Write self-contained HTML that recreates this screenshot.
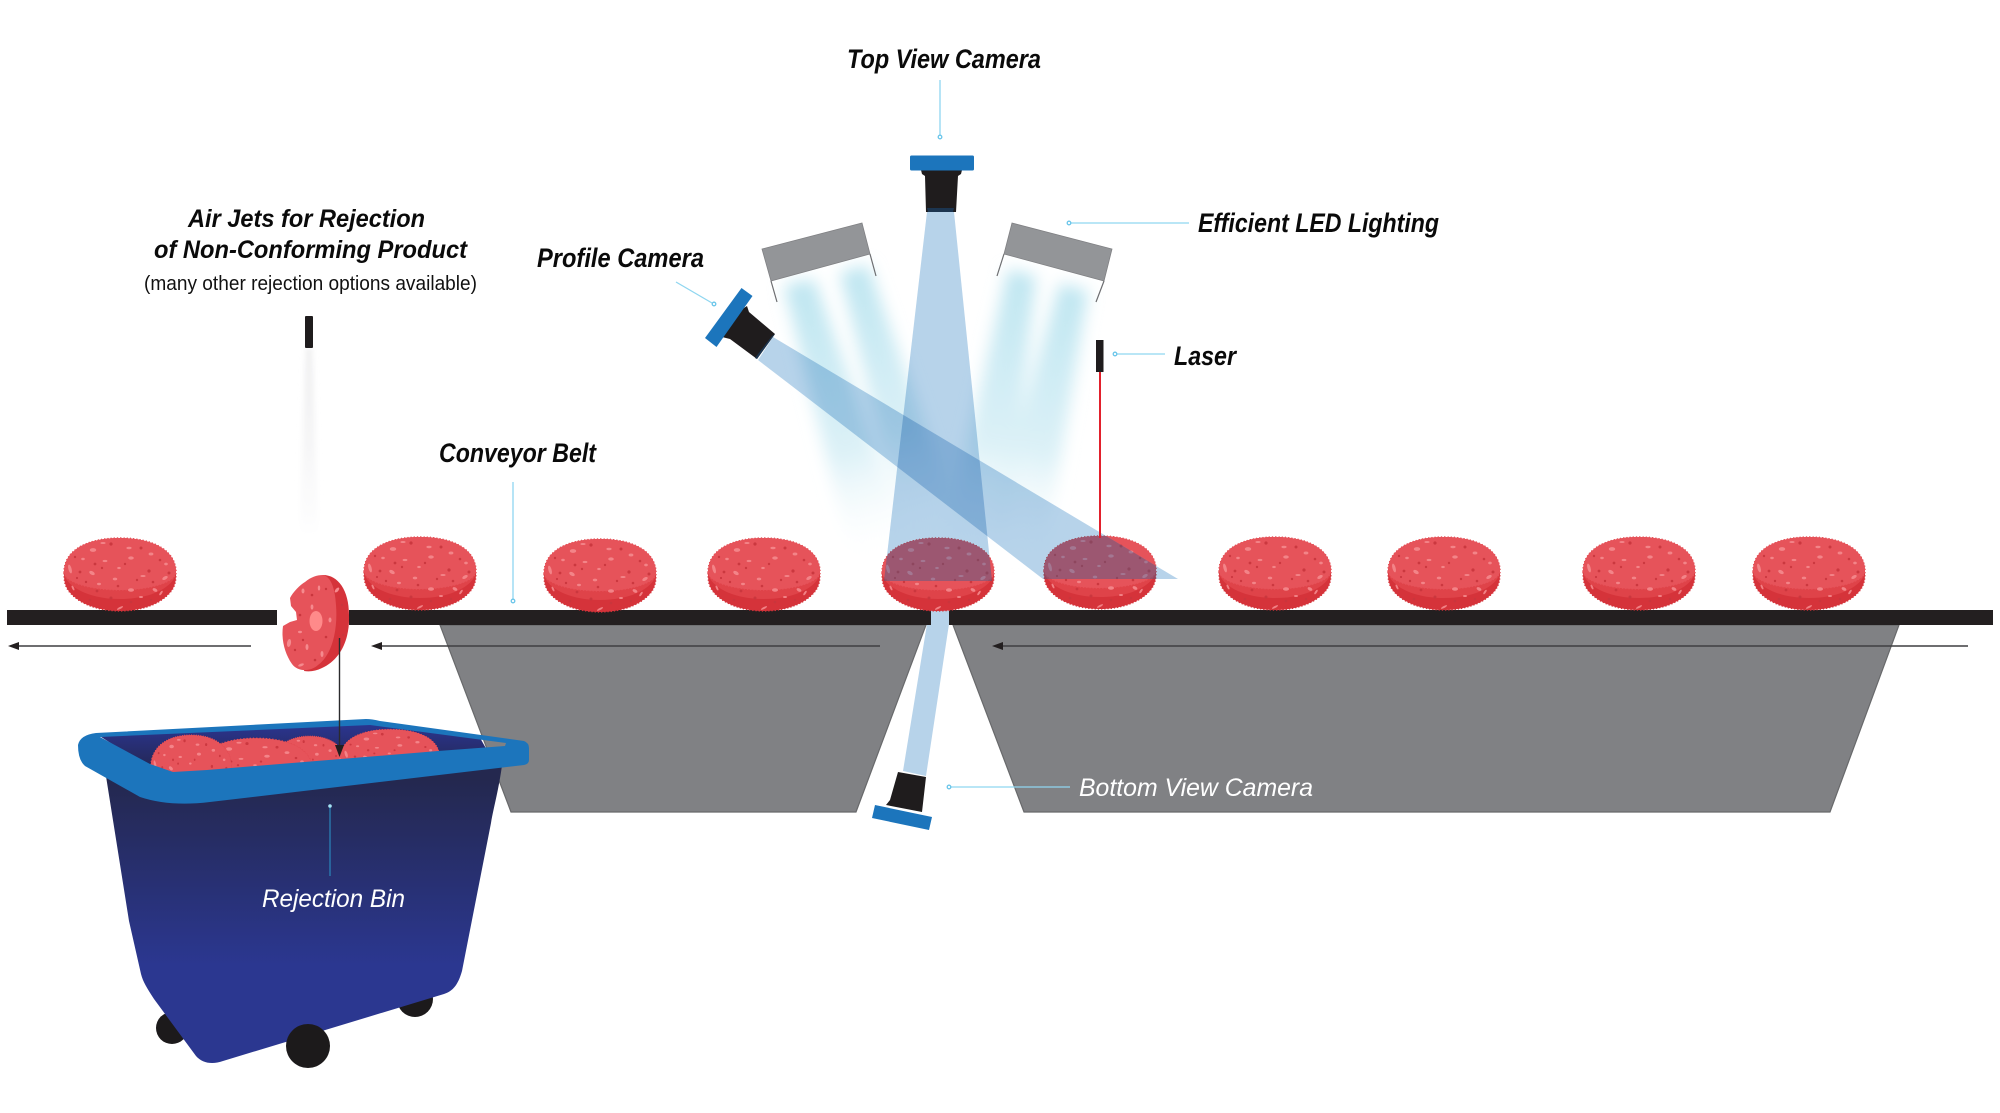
<!DOCTYPE html>
<html lang="en">
<head>
<meta charset="utf-8">
<title>Patty inspection line</title>
<style>
html,body{margin:0;padding:0;background:#fff;width:2000px;height:1113px;overflow:hidden}
svg{display:block}
text{font-family:"Liberation Sans",sans-serif}
.b{font-weight:700;font-style:italic;font-size:27px;fill:#0a0a0a}
.a{font-weight:700;font-style:italic;font-size:25px;fill:#0a0a0a}
.w{font-style:italic;font-size:25px;fill:#fff}
.lead{stroke:#8fd6f0;stroke-width:1.3;fill:none}
.dot{stroke:#6cc6ea;stroke-width:1.3;fill:#fff}
.blue{fill:#1c75bc}
.blk{fill:#1f1c1d}
.beam{fill:#b7d3ea;mix-blend-mode:multiply}
.arr{stroke:#3f3f41;stroke-width:1.6;fill:none}
</style>
</head>
<body>
<svg width="2000" height="1113" viewBox="0 0 2000 1113" xmlns="http://www.w3.org/2000/svg">
<defs>
<filter id="bl" x="-80%" y="-20%" width="260%" height="140%"><feGaussianBlur stdDeviation="8"/></filter>
<filter id="bl2" x="-100%" y="-10%" width="300%" height="120%"><feGaussianBlur stdDeviation="3"/></filter>
<linearGradient id="ledL" gradientUnits="userSpaceOnUse" x1="800" y1="285" x2="885" y2="560">
<stop offset="0" stop-color="#bfe6f1"/><stop offset=".6" stop-color="#dcf1f7"/><stop offset="1" stop-color="#ffffff" stop-opacity="0"/>
</linearGradient>
<linearGradient id="ledL2" gradientUnits="userSpaceOnUse" x1="855" y1="270" x2="935" y2="540">
<stop offset="0" stop-color="#bfe6f1"/><stop offset=".6" stop-color="#dcf1f7"/><stop offset="1" stop-color="#ffffff" stop-opacity="0"/>
</linearGradient>
<linearGradient id="ledR" gradientUnits="userSpaceOnUse" x1="1022" y1="270" x2="973" y2="560">
<stop offset="0" stop-color="#bfe6f1"/><stop offset=".6" stop-color="#dcf1f7"/><stop offset="1" stop-color="#ffffff" stop-opacity="0"/>
</linearGradient>
<linearGradient id="ledR2" gradientUnits="userSpaceOnUse" x1="1073" y1="285" x2="1012" y2="560">
<stop offset="0" stop-color="#bfe6f1"/><stop offset=".6" stop-color="#dcf1f7"/><stop offset="1" stop-color="#ffffff" stop-opacity="0"/>
</linearGradient>
<linearGradient id="air" gradientUnits="userSpaceOnUse" x1="309" y1="348" x2="309" y2="540">
<stop offset="0" stop-color="#eeeeef"/><stop offset=".5" stop-color="#f6f6f7"/><stop offset="1" stop-color="#ffffff"/>
</linearGradient>
<linearGradient id="binG" gradientUnits="userSpaceOnUse" x1="0" y1="780" x2="0" y2="965">
<stop offset="0" stop-color="#24284f"/><stop offset="1" stop-color="#2b3790"/>
</linearGradient>
<linearGradient id="inG" gradientUnits="userSpaceOnUse" x1="0" y1="724" x2="0" y2="772">
<stop offset="0" stop-color="#2b3590"/><stop offset="1" stop-color="#232650"/>
</linearGradient>
<clipPath id="cTop"><polygon points="926,212 953,212 992,581 884,581"/></clipPath>
<clipPath id="cPro"><polygon points="775,336 757,359 1043,579 1178,579"/></clipPath>
<clipPath id="cHole"><polygon points="98,735 150,766 173,774 207,772 440,753 507,748 507,741 370,723"/></clipPath>

<path id="ps" d="M1,32C1,11 23,-2 57,-2C91,-2 113,11 113,32C113,38 113,44 109,50C100,63 80,71 57,71C34,71 14,63 5,50C1,44 1,38 1,32Z"/>

<g id="sp" opacity=".9">
<g fill="#f58a8e">
<ellipse cx="7" cy="29" rx="1.6" ry="4.5" transform="rotate(-15 7 29)"/><ellipse cx="30" cy="10" rx="3.2" ry="1.9"/><ellipse cx="40" cy="3" rx="2.6" ry="1"/>
<ellipse cx="66" cy="8" rx="2.6" ry="1.2"/><ellipse cx="88" cy="14" rx="2.4" ry="1.5"/><ellipse cx="29" cy="33" rx="3" ry="1.8" transform="rotate(30 29 33)"/>
<ellipse cx="42" cy="21" rx="2.4" ry="1.1"/><ellipse cx="68" cy="18" rx="2.8" ry="1.6"/><ellipse cx="102" cy="38" rx="3" ry="1.6" transform="rotate(-30 102 38)"/>
<ellipse cx="52" cy="39" rx="2.2" ry="1.4"/><ellipse cx="68" cy="50" rx="3" ry="1.8"/><ellipse cx="92" cy="50" rx="2.6" ry="1.6" transform="rotate(30 92 50)"/>
<ellipse cx="20" cy="19" rx="1.8" ry="1.2"/><ellipse cx="103" cy="24" rx="1.8" ry="1.4"/><ellipse cx="80" cy="36" rx="2.6" ry="1"/>
<ellipse cx="10" cy="48" rx="1" ry="2.6" transform="rotate(-25 10 48)"/><ellipse cx="57" cy="68" rx="3.4" ry="1" transform="rotate(-28 57 68)"/><ellipse cx="36" cy="44" rx="2" ry="1.2"/>
<ellipse cx="78" cy="57" rx="2" ry="1"/><ellipse cx="56" cy="28" rx="1.8" ry="1.1"/><ellipse cx="98" cy="53" rx="1" ry="2.6" transform="rotate(35 98 53)"/>
</g>
<g fill="#c9363d">
<circle cx="17" cy="32" r="1.4"/><circle cx="32" cy="24" r="1.4"/><circle cx="48" cy="4" r="1.6"/><circle cx="78" cy="8" r="1.5"/><circle cx="97" cy="20" r="1.3"/>
<circle cx="39" cy="28" r="1.2"/><circle cx="62" cy="24" r="1.2"/><circle cx="86" cy="31" r="1.6"/><circle cx="23" cy="42" r="1.2"/><circle cx="55" cy="46" r="1.3"/>
<circle cx="74" cy="40" r="1.2"/><circle cx="90" cy="42" r="1.3"/><circle cx="34" cy="51" r="1.4"/><circle cx="106" cy="33" r="1.5"/><circle cx="27" cy="60" r="1.3"/>
<circle cx="48" cy="58" r="1.5"/><circle cx="68" cy="62" r="1.3"/><circle cx="88" cy="60" r="1.2"/><circle cx="14" cy="38" r="1.1"/><circle cx="12" cy="17" r="1.2"/>
</g>
</g>

<g id="p">
<use href="#ps" fill="#d5333a" stroke="#d5333a" stroke-width="1.5" stroke-linecap="round" stroke-dasharray="0 3.2"/>
<path d="M1.5,36C8,50 30,59 57,59C84,59 106,50 112.5,36Z" fill="#df4349"/>
<path d="M1,32C1,11 23,-2 57,-2C91,-2 113,11 113,32C113,42 88,50 57,50C26,50 1,42 1,32Z" fill="#e6535a" stroke="#e6535a" stroke-width="1.4" stroke-linecap="round" stroke-dasharray="0 3.2"/>
<use href="#sp"/>
</g>
</defs>

<!-- LED light streaks -->
<g filter="url(#bl)">
<polygon points="784,285 814,279 915,560 852,560" fill="url(#ledL)"/>
<polygon points="840,272 868,265 965,540 905,540" fill="url(#ledL2)"/>
<polygon points="1008,269 1036,276 1005,560 940,560" fill="url(#ledR)"/>
<polygon points="1060,283 1088,291 1044,560 980,560" fill="url(#ledR2)"/>
</g>
<polygon points="306,348 312,348 319,540 299,540" fill="url(#air)" filter="url(#bl2)"/>

<!-- conveyor supports -->
<polygon points="440,625 926,625 856,812 511,812" fill="#808184" stroke="#68696b" stroke-width="1.2"/>
<polygon points="953,625 1899,625 1830,812 1024,812" fill="#808184" stroke="#68696b" stroke-width="1.2"/>

<!-- bottom beam -->
<polygon points="931,610 949,610 949,624 926,776 903,771 927,624 931,624" fill="#b7d3ea"/>

<!-- belt -->
<g fill="#231f20">
<rect x="7" y="610" width="270" height="15"/>
<rect x="349" y="610" width="582" height="15"/>
<rect x="949" y="610" width="1044" height="15"/>
</g>

<!-- patties -->
<use href="#p" x="63" y="540"/>
<use href="#p" x="363" y="539"/>
<use href="#p" x="543" y="541"/>
<use href="#p" x="707" y="540"/>
<use href="#p" x="881" y="540"/>
<use href="#p" x="1043" y="538"/>
<use href="#p" x="1218" y="539"/>
<use href="#p" x="1387" y="539"/>
<use href="#p" x="1582" y="539"/>
<use href="#p" x="1752" y="539"/>

<!-- camera beams -->
<polygon class="beam" points="927,212 954,212 992,581 884,581"/>
<polygon class="beam" points="773,337 758,360 1043,579 1178,579"/>
<g clip-path="url(#cTop)"><use href="#ps" x="881" y="540" fill="#7f9be0" opacity=".22"/></g>
<g clip-path="url(#cPro)"><use href="#ps" x="1043" y="538" fill="#7f9be0" opacity=".22"/></g>

<!-- red laser -->
<line x1="1100" y1="372" x2="1100" y2="538" stroke="#e2202c" stroke-width="2"/>
<rect x="1096" y="340" width="7.5" height="32" class="blk"/>

<!-- LED housings -->
<polygon points="762,249 862,223 870,254 771,281" fill="#939598" stroke="#808184" stroke-width=".8"/>
<polygon points="1012,223 1112,249 1104,281 1004,254" fill="#939598" stroke="#808184" stroke-width=".8"/>
<g stroke="#6d6e71" stroke-width="1.2" fill="none">
<line x1="771" y1="281" x2="777" y2="302"/><line x1="870" y1="254" x2="876" y2="276"/>
<line x1="1004" y1="254" x2="997" y2="276"/><line x1="1104" y1="281" x2="1096" y2="302"/>
</g>

<!-- top camera -->
<polygon class="blk" points="921,170 962,170 961,174 958,176 956,212 926,212 925,176 922,174"/>
<polygon points="927,208 954,208 953,212 928,212" fill="#1c3550"/>
<rect x="910" y="155.5" width="64" height="15" rx="1.5" class="blue"/>

<!-- profile camera -->
<polygon class="blk" points="747,306 749,312 775,334 757,359 730,339 722,337 733,315"/>
<polygon points="772,336 775,334 757,359 755,358" fill="#1c3550"/>
<polygon class="blue" points="741.5,288 752.5,296 716.5,347 705,338"/>

<!-- bottom camera -->
<polygon class="blk" points="898,772 926,777 922,812 886,805 890,800"/>
<polygon class="blue" points="875,805 932,817 929,830 872,818"/>

<!-- air nozzle -->
<rect x="305" y="316" width="8" height="32" rx="1" class="blk"/>

<!-- flow arrows -->
<g class="arr">
<line x1="251" y1="646" x2="16" y2="646"/>
<line x1="880" y1="646" x2="379" y2="646"/>
<line x1="1968" y1="646" x2="1000" y2="646"/>
</g>
<g fill="#231f20">
<polygon points="8,646 19,642 19,650"/>
<polygon points="371,646 382,642 382,650"/>
<polygon points="992,646 1003,642 1003,650"/>
</g>

<!-- bin rear wheels -->
<circle cx="172" cy="1028" r="16" fill="#1c1a1b"/>
<circle cx="415" cy="999" r="18" fill="#1c1a1b"/>

<!-- bin body -->
<path d="M105,770L503,758C499,790 494,805 491,823L462,971C458,985 453,991 444,994L223,1061C212,1065 202,1063 196,1056L154,999C147,988 143,982 141,974L129,921Z" fill="url(#binG)"/>
<polygon points="98,735 370,723 479,736 488,752 437,756 207,775 173,776 150,768" fill="url(#inG)"/>

<!-- patties in bin -->
<g clip-path="url(#cHole)">
<use href="#p" transform="translate(340,731) scale(.88,.8)"/>
<use href="#p" transform="translate(272,738) scale(.66,.9)"/>
<use href="#p" transform="translate(199,740) scale(1,.9)"/>
<use href="#p" transform="translate(150,737) scale(.72,.95)"/>
</g>

<!-- bin rim -->
<path fill-rule="evenodd" class="blue" d="M78,745Q80,735 96,733L366,719Q372,719 380,721L524,741Q529,743 529,748L529,760Q529,764 524,765L210,802Q170,807 140,797L85,766Q78,760 78,745ZM100,737L150,764L173,772L207,770L438,751L505,746L506,743L370,725Z"/>

<!-- front wheel -->
<ellipse cx="308" cy="1046" rx="22" ry="22" fill="#1c1a1b"/>

<!-- falling patty -->
<g>
<path d="M323,575C338,575 349,590 349,615C350,640 340,660 322,668C316,671 310,672 304,671L320,600Z" fill="#d5333a"/>
<path d="M323,575C331,577 335,588 336,605C338,630 332,655 318,665C310,672 298,672 292,664C285,654 281,640 283,626L290,622L297,620L296,612L291,606L290,598C293,592 300,585 305,582C311,577 317,575 323,575Z" fill="#e6535a"/>
<ellipse cx="316" cy="621" rx="6.5" ry="10" fill="#ff8a8a"/>
<g fill="#f58a8e">
<ellipse cx="303" cy="591" rx="1.5" ry="2.5"/><ellipse cx="319" cy="588" rx="1.2" ry="2.5"/><ellipse cx="289" cy="643" rx="2" ry="4" transform="rotate(10 289 643)"/>
<ellipse cx="301" cy="665" rx="3" ry="1.3" transform="rotate(-20 301 665)"/><ellipse cx="322" cy="654" rx="1.5" ry="3"/><ellipse cx="337" cy="590" rx="1.5" ry="3" transform="rotate(40 337 590)"/><ellipse cx="307" cy="647" rx="1.5" ry="3"/><ellipse cx="312" cy="607" rx="1.4" ry="2.6"/><ellipse cx="330" cy="620" rx="1.5" ry="2.5"/><ellipse cx="300" cy="632" rx="2" ry="1.2"/>
</g>
<g fill="#c9363d">
<circle cx="312" cy="595" r="1.3"/><circle cx="326" cy="637" r="1.3"/><circle cx="300" cy="615" r="1.3"/><circle cx="315" cy="660" r="1.3"/><circle cx="295" cy="650" r="1.2"/><circle cx="303" cy="640" r="1.2"/><circle cx="326" cy="589" r="1.2"/><circle cx="343" cy="635" r="1.2"/><circle cx="342" cy="605" r="1.2"/>
</g>
</g>

<!-- rejection arrow -->
<line x1="339.5" y1="638" x2="339.5" y2="748" stroke="#2b2b2d" stroke-width="1.4"/>
<polygon points="339.5,757 335,745 344,745" fill="#231f20"/>

<!-- leaders -->
<line class="lead" x1="940" y1="80" x2="940" y2="135"/><circle class="dot" cx="940" cy="137" r="1.8"/>
<line class="lead" x1="1071" y1="223" x2="1189" y2="223"/><circle class="dot" cx="1069" cy="223" r="1.8"/>
<line class="lead" x1="1117" y1="354" x2="1165" y2="354"/><circle class="dot" cx="1115" cy="354" r="1.8"/>
<line class="lead" x1="676" y1="282" x2="712" y2="303"/><circle class="dot" cx="714" cy="304" r="1.8"/>
<line class="lead" x1="513" y1="482" x2="513" y2="599"/><circle class="dot" cx="513" cy="601" r="1.8"/>
<line class="lead" x1="951" y1="787" x2="1070" y2="787"/><circle class="dot" cx="949" cy="787" r="1.8"/>
<line x1="330" y1="806" x2="330" y2="876" stroke="#2a86bb" stroke-width="1.2"/><circle cx="330" cy="806" r="1.8" fill="#a6e3f5"/>

<!-- labels -->
<text class="b" x="847" y="68" textLength="194" lengthAdjust="spacingAndGlyphs">Top View Camera</text>
<text class="b" x="1198" y="232" textLength="241" lengthAdjust="spacingAndGlyphs">Efficient LED Lighting</text>
<text class="b" x="1174" y="365" textLength="62" lengthAdjust="spacingAndGlyphs">Laser</text>
<text class="b" x="537" y="267" textLength="167" lengthAdjust="spacingAndGlyphs">Profile Camera</text>
<text class="b" x="439" y="462" textLength="157" lengthAdjust="spacingAndGlyphs">Conveyor Belt</text>
<text class="a" x="188" y="227" textLength="237" lengthAdjust="spacingAndGlyphs">Air Jets for Rejection</text>
<text class="a" x="154" y="258" textLength="313" lengthAdjust="spacingAndGlyphs">of Non-Conforming Product</text>
<text x="144" y="290" font-size="20.5" fill="#111" textLength="333" lengthAdjust="spacingAndGlyphs">(many other rejection options available)</text>
<text class="w" x="1079" y="796" textLength="234" lengthAdjust="spacingAndGlyphs">Bottom View Camera</text>
<text class="w" x="262" y="907" textLength="143" lengthAdjust="spacingAndGlyphs">Rejection Bin</text>
</svg>
</body>
</html>
